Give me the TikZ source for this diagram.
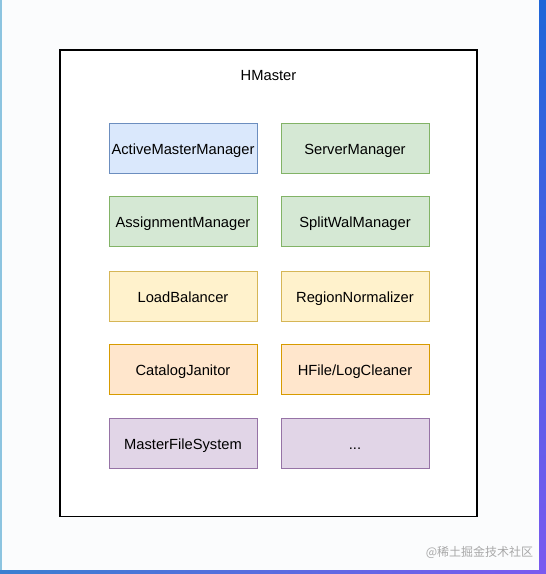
\documentclass[tikz,border=0pt]{standalone}
\usepackage{fontspec}
\setmainfont{Liberation Sans}
\newfontfamily\cjkfont{Noto Sans CJK SC}
\usetikzlibrary{positioning}
\definecolor{bgc}{HTML}{FBFCFD}
\definecolor{blueF}{HTML}{DAE8FC}\definecolor{blueD}{HTML}{6C8EBF}
\definecolor{greenF}{HTML}{D5E8D4}\definecolor{greenD}{HTML}{82B366}
\definecolor{yellowF}{HTML}{FFF2CC}\definecolor{yellowD}{HTML}{D6B656}
\definecolor{orangeF}{HTML}{FFE6CC}\definecolor{orangeD}{HTML}{D79B00}
\definecolor{purpleF}{HTML}{E1D5E7}\definecolor{purpleD}{HTML}{9673A6}
\definecolor{edgeA}{HTML}{1F66D8}\definecolor{edgeB}{HTML}{7A5AF0}
\definecolor{edgeL}{HTML}{8CC4E0}\definecolor{edgeBL}{HTML}{3A7FD0}
\definecolor{wm}{HTML}{A8A8A8}
\tikzset{
  comp/.style={draw, line width=0.9pt, minimum width=148pt, minimum height=50pt,
    inner sep=0pt, text height=12pt, text depth=0pt,
    font=\fontsize{14.7}{17}\selectfont},
  bluebox/.style={comp, fill=blueF, draw=blueD},
  greenbox/.style={comp, fill=greenF, draw=greenD},
  yellowbox/.style={comp, fill=yellowF, draw=yellowD},
  orangebox/.style={comp, fill=orangeF, draw=orangeD},
  purplebox/.style={comp, fill=purpleF, draw=purpleD},
  outerbox/.style={draw=black, line width=1.2pt, fill=white},
}
\begin{document}
\begin{tikzpicture}[x=1pt,y=-1pt]
\useasboundingbox (0,0) rectangle (546,574);
\fill[bgc] (0,0) rectangle (546,574);
% frame strips
\fill[edgeL] (0,0) rectangle (2,574);
\shade[left color=edgeBL, right color=edgeB] (0,570) rectangle (546,574);
\shade[top color=edgeA, bottom color=edgeB] (539,0) rectangle (546,574);
% outer container
\draw[outerbox] (60,50) rectangle (477,516.5);
\node[font=\fontsize{14.7}{17}\selectfont, inner sep=0pt, text height=12pt, text depth=0pt] (title) at (268.5,74) {HMaster};
% components
\node[bluebox]   (amm) at (183,148)   {ActiveMasterManager};
\node[greenbox]  (sm)  at (355,148)   {ServerManager};
\node[greenbox]  (am)  at (183,221.5) {AssignmentManager};
\node[greenbox]  (swm) at (355,221.5) {SplitWalManager};
\node[yellowbox] (lb)  at (183,296)   {LoadBalancer};
\node[yellowbox] (rn)  at (355,296)   {RegionNormalizer};
\node[orangebox] (cj)  at (183,369)   {CatalogJanitor};
\node[orangebox] (hlc) at (355,369)   {HFile/LogCleaner};
\node[purplebox] (mfs) at (183,443)   {MasterFileSystem};
\node[purplebox] (etc) at (355,443)   {...};
% watermark
\node[text=wm, font=\cjkfont\fontsize{12}{14}\selectfont, inner sep=0pt] (wmark) at (479.5,552) {@稀土掘金技术社区};
\end{tikzpicture}
\end{document}
